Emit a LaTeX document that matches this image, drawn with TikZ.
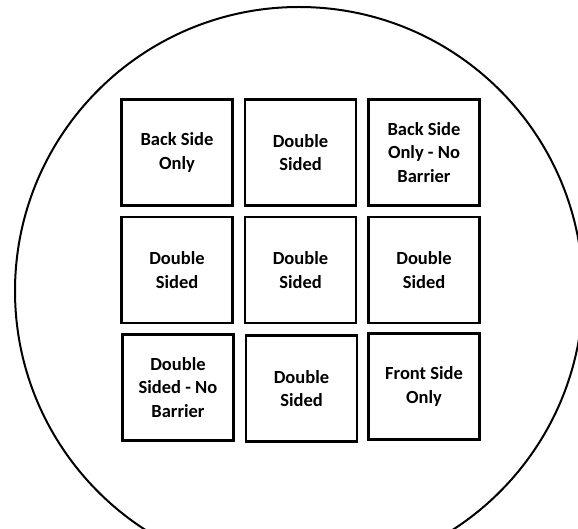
\documentclass[tikz,border=0pt]{standalone}
\usepackage{fontspec}
\setmainfont{Carlito}
\usepackage{tikz}

\tikzset{
  wafer/.style={draw=black, line width=2pt},
  die/.style={draw=black, fill=white, line width=2.6pt, minimum width=111pt, minimum height=106pt,
    align=center, inner sep=0pt, font=\fontsize{18.5}{23.5}\selectfont\bfseries}
}

\begin{document}
\begin{tikzpicture}[x=1pt, y=-1pt]

   \useasboundingbox (0,0) rectangle (578,529);
   \clip (0,0) rectangle (578,529);

   \draw[wafer] (299,291) circle (284);

   \node[die] (die11) at (177,152.5) {Back Side\\Only};
   \node[die] (die12) at (300.5,152.5) {Double\\Sided};
   \node[die] (die13) at (424,152.5) {Back Side\\Only - No\\Barrier};

   \node[die] (die21) at (177,270) {Double\\Sided};
   \node[die] (die22) at (300.5,270) {Double\\Sided};
   \node[die] (die23) at (424,270) {Double\\Sided};

   \node[die] (die31) at (178,387.5) {Double\\Sided - No\\Barrier};
   \node[die] (die32) at (301.5,388.5) {Double\\Sided};
   \node[die] (die33) at (424,386.5) {Front Side\\Only};

\end{tikzpicture}
\end{document}
